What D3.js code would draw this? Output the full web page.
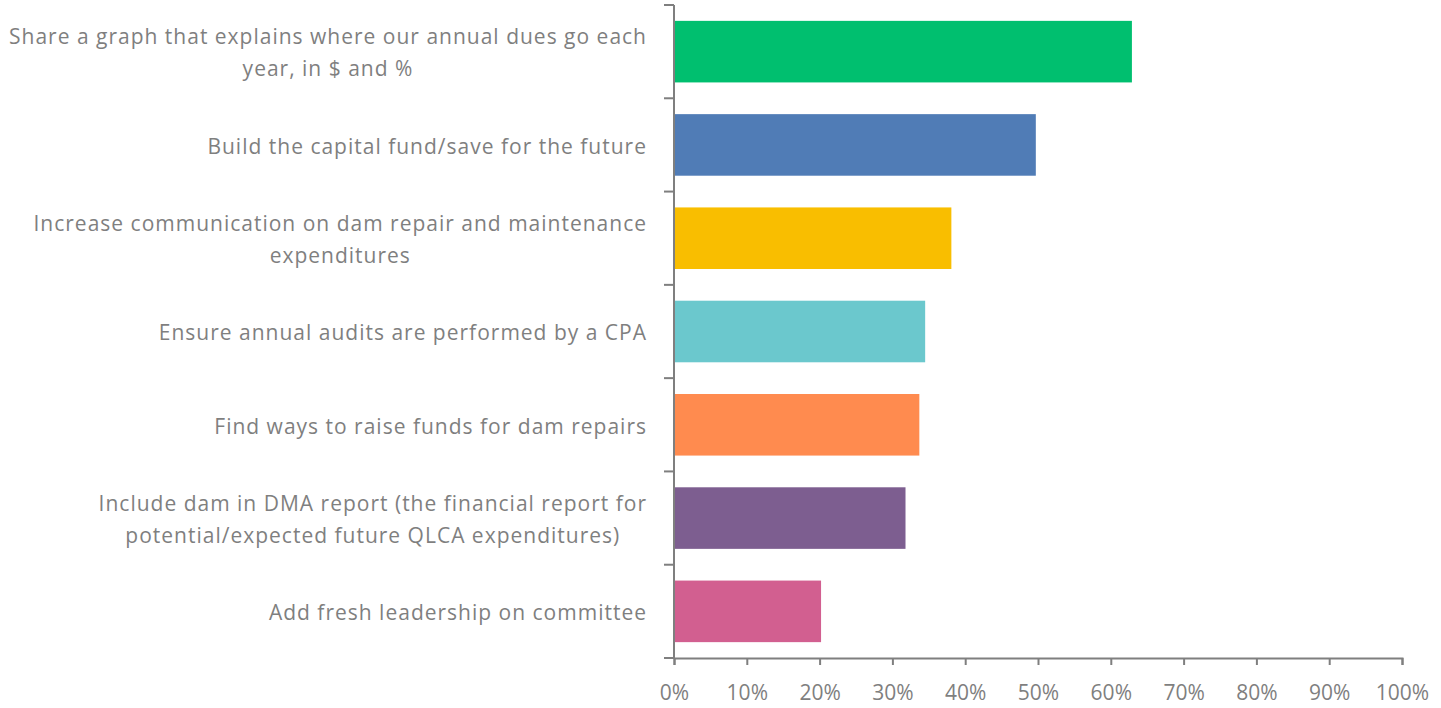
<!DOCTYPE html>
<html>
<head>
<meta charset="utf-8">
<script src="https://cdn.jsdelivr.net/npm/d3@7"></script>
<style>
  body { margin: 0; background: #fff; }
  text { font-family: "Open Sans", "Noto Sans", sans-serif; fill: #7f7f7f; }
</style>
</head>
<body>
<script>
// categories (each is an array of label lines)
var categories = [
  ["Share a graph that explains where our annual dues go each", "year, in $ and %"],
  ["Build the capital fund/save for the future"],
  ["Increase communication on dam repair and maintenance", "expenditures"],
  ["Ensure annual audits are performed by a CPA"],
  ["Find ways to raise funds for dam repairs"],
  ["Include dam in DMA report (the financial report for", "potential/expected future QLCA expenditures)"],
  ["Add fresh leadership on committee"]
];
var values = [0.629, 0.497, 0.381, 0.345, 0.337, 0.318, 0.202];
var colors = ["#00bf6f", "#507cb6", "#f9be00", "#6bc8cd", "#ff8b4f", "#7d5e90", "#d25f90"];
var tickValues = [0, 0.1, 0.2, 0.3, 0.4, 0.5, 0.6, 0.7, 0.8, 0.9, 1];

(function() {
  var w = 1441, h = 708;
  var plotLeft = 674, plotRight = 1402, plotTop = 5, plotBottom = 658;
  var axisColor = "#7f7f7f";
  var labelRight = 647;

  var svg = d3.select("body").append("svg")
    .attr("width", w)
    .attr("height", h);

  var x = d3.scaleLinear().domain([0, 1]).range([plotLeft, plotRight]);
  var y = d3.scaleBand()
    .domain(d3.range(categories.length))
    .range([plotTop, plotBottom])
    .paddingInner(0.34)
    .paddingOuter(0.17);

  // bars
  svg.selectAll("rect.bar")
    .data(values)
    .enter()
    .append("rect")
    .attr("class", "bar")
    .attr("x", x(0))
    .attr("y", function(d, i) { return y(i); })
    .attr("width", function(d) { return x(d) - x(0); })
    .attr("height", y.bandwidth())
    .attr("fill", function(d, i) { return colors[i]; });

  // x axis
  var xAxis = svg.append("g")
    .attr("transform", "translate(0," + plotBottom + ")")
    .call(d3.axisBottom(x).tickValues(tickValues).tickFormat(d3.format(".0%")).tickSize(7).tickPadding(20));
  xAxis.selectAll("line").attr("stroke", axisColor).attr("stroke-width", 2);
  xAxis.select(".domain").attr("stroke", axisColor).attr("stroke-width", 2);
  xAxis.selectAll("text").attr("font-size", 21).attr("fill", axisColor);

  // y axis: line with ticks at band boundaries
  var step = y.step();
  var boundaries = d3.range(categories.length + 1).map(function(i) { return plotTop + i * step; });
  svg.append("line")
    .attr("x1", plotLeft).attr("x2", plotLeft)
    .attr("y1", plotTop).attr("y2", plotBottom)
    .attr("stroke", axisColor).attr("stroke-width", 2);
  svg.selectAll("line.ytick")
    .data(boundaries)
    .enter()
    .append("line")
    .attr("class", "ytick")
    .attr("x1", plotLeft - 10).attr("x2", plotLeft)
    .attr("y1", function(d) { return d; })
    .attr("y2", function(d) { return d; })
    .attr("stroke", axisColor).attr("stroke-width", 2);

  // category labels: block right-aligned, lines centered within block
  var lineH = 32;
  var labels = svg.selectAll("text.cat")
    .data(categories)
    .enter()
    .append("text")
    .attr("class", "cat")
    .attr("text-anchor", "middle")
    .attr("font-size", 21)
    .attr("letter-spacing", 1)
    .attr("fill", axisColor);

  labels.each(function(lines, i) {
    var cy = y(i) + y.bandwidth() / 2;
    var startY = cy - (lines.length - 1) * lineH / 2;
    var spans = d3.select(this).selectAll("tspan")
      .data(lines)
      .enter()
      .append("tspan")
      .attr("y", function(d, j) { return startY + j * lineH; })
      .attr("dy", "0.42em")
      .text(function(d) { return d; });
    var maxW = d3.max(spans.nodes(), function(n) { return n.getComputedTextLength(); });
    spans.attr("x", labelRight - maxW / 2);
  });
})();
</script>
</body>
</html>
